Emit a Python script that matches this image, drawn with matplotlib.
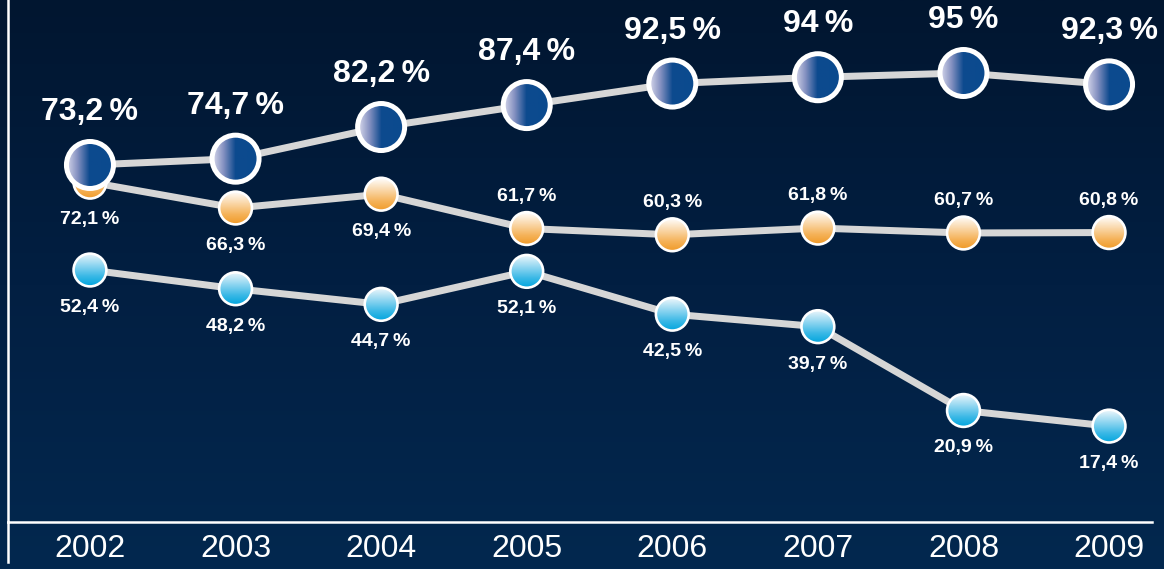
"""Share of respondents per year, three series on a navy gradient panel."""

import numpy as np
import matplotlib
matplotlib.use("Agg")
import matplotlib.pyplot as plt
import matplotlib.image as mimage
from matplotlib import transforms
from matplotlib.colors import LinearSegmentedColormap
from matplotlib.lines import Line2D
from matplotlib.patches import Circle

# --- data -------------------------------------------------------------------
years = [2002, 2003, 2004, 2005, 2006, 2007, 2008, 2009]
top_series = [73.2, 74.7, 82.2, 87.4, 92.5, 94.0, 95.0, 92.3]
mid_series = [72.1, 66.3, 69.4, 61.7, 60.3, 61.8, 60.7, 60.8]
low_series = [52.4, 48.2, 44.7, 52.1, 42.5, 39.7, 20.9, 17.4]
top_labels = ["73,2", "74,7", "82,2", "87,4", "92,5", "94", "95", "92,3"]
mid_labels = ["72,1", "66,3", "69,4", "61,7", "60,3", "61,8", "60,7", "60,8"]
low_labels = ["52,4", "48,2", "44,7", "52,1", "42,5", "39,7", "20,9", "17,4"]

# --- style ------------------------------------------------------------------
W, H, DPI = 1164, 569, 100
FONT = ["Liberation Sans", "DejaVu Sans"]
LINE_GREY = "#d6d6d6"
mid_label_above = [False, False, False, True, True, True, True, True]

cmap_bg = LinearSegmentedColormap.from_list("bg", ["#03284f", "#021f42", "#011630"])
cmap_top = LinearSegmentedColormap.from_list(
    "top", [(0.0, "#dcdcee"), (0.25, "#8390c0"), (0.5, "#0d4a8e"), (1.0, "#0b4a8f")])
cmap_mid = LinearSegmentedColormap.from_list(
    "mid", [(0.0, "#f09a28"), (0.3, "#f5b35a"), (1.0, "#ffffff")])
cmap_low = LinearSegmentedColormap.from_list(
    "low", [(0.0, "#00a5dd"), (0.3, "#3ab8e6"), (1.0, "#eef7fc")])


def px(v):
    """Pixels to points."""
    return v * 72.0 / DPI


def gradient_marker(ax, x, y, radius_px, cmap, horizontal, edge_px, zorder):
    r = radius_px / DPI
    trans = fig.dpi_scale_trans + transforms.ScaledTranslation(x, y, ax.transData)
    clip = Circle((0, 0), r, transform=trans)
    if horizontal:
        arr = np.linspace(0, 1, 256).reshape(1, -1)
    else:
        arr = np.linspace(0, 1, 256).reshape(-1, 1)
    im = mimage.AxesImage(ax, cmap=cmap, extent=(-r, r, -r, r), origin="lower",
                          interpolation="bilinear", zorder=zorder)
    im.set_data(arr)
    im.set_transform(trans)
    im.set_clip_path(clip)
    ax.add_image(im)
    ring = Circle((0, 0), r, transform=trans, facecolor="none", edgecolor="white",
                  linewidth=px(edge_px), zorder=zorder + 0.1)
    ax.add_artist(ring)


fig = plt.figure(figsize=(W / DPI, H / DPI), dpi=DPI)

# background gradient
bg = fig.add_axes([0, 0, 1, 1], zorder=-10)
bg.imshow(np.linspace(0, 1, 256).reshape(-1, 1), origin="lower", aspect="auto",
          cmap=cmap_bg, extent=(0, 1, 0, 1))
bg.axis("off")

ax = fig.add_axes([8 / W, 47 / H, (1152 - 8) / W, 522 / H])
ax.set_facecolor("none")
ax2 = ax.twinx()
ax2.set_facecolor("none")

ax.set_xlim(2001.437, 2009.295)
ax.set_ylim(-4.1, 112.94)
ax2.set_ylim(-11.4, 112.3)

for a in (ax, ax2):
    for s in a.spines.values():
        s.set_visible(False)
    a.set_yticks([])
ax.spines["bottom"].set_visible(True)
ax.spines["left"].set_visible(True)
ax.spines["bottom"].set_color("white")
ax.spines["left"].set_color("white")
ax.spines["bottom"].set_linewidth(px(2.5))
ax.spines["left"].set_linewidth(px(2.5))
fig.add_artist(Line2D([8 / W, 8 / W], [7 / H, 47 / H], color="white",
                      linewidth=px(2.5), transform=fig.transFigure))

ax.set_xticks(years)
ax.set_xticklabels([str(y) for y in years], family=FONT, fontsize=23, color="white")
ax.tick_params(axis="x", length=0, pad=px(12))

# connecting lines
ax.plot(years, mid_series, color=LINE_GREY, linewidth=px(7), zorder=2,
        solid_capstyle="round")
ax.plot(years, low_series, color=LINE_GREY, linewidth=px(7), zorder=2,
        solid_capstyle="round")
ax2.plot(years, top_series, color=LINE_GREY, linewidth=px(7), zorder=2,
         solid_capstyle="round")

# markers
for x, v in zip(years, mid_series):
    gradient_marker(ax, x, v, 16.4, cmap_mid, False, 2.6, 3)
for x, v in zip(years, low_series):
    gradient_marker(ax, x, v, 16.4, cmap_low, False, 2.6, 3)
for x, v in zip(years, top_series):
    gradient_marker(ax2, x, v, 23.5, cmap_top, True, 5.0, 4)

# labels
small = dict(family=FONT, fontsize=14, fontweight="bold", color="white",
             ha="center", va="baseline", textcoords="offset points")
for x, v, t, above in zip(years, mid_series, mid_labels, mid_label_above):
    ax.annotate(t + "\u2009%", (x, v), xytext=(0, px(28) if above else -px(42)),
                zorder=5, **small)
for x, v, t in zip(years, low_series, low_labels):
    ax.annotate(t + "\u2009%", (x, v), xytext=(0, -px(42)), zorder=5, **small)
for x, v, t in zip(years, top_series, top_labels):
    ax2.annotate(t + "\u2009%", (x, v), xytext=(0, px(45)), family=FONT,
                 fontsize=23, fontweight="bold", color="white", ha="center",
                 va="baseline", textcoords="offset points", zorder=5)

fig.savefig("out.png", dpi=DPI)
